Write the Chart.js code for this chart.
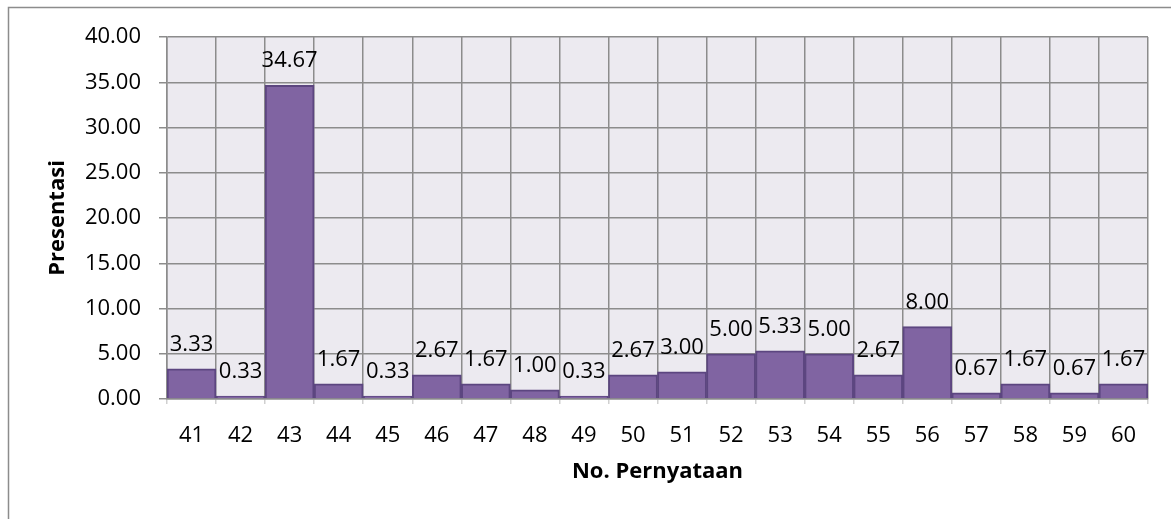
<!DOCTYPE html>
<html lang="id">
<head>
    <meta charset="UTF-8">
    <title>Presentasi per No. Pernyataan</title>
    <script src="https://cdn.jsdelivr.net/npm/chart.js"></script>
    <style>
        body { margin: 0; background: #fff; }
    </style>
</head>
<body>
    <canvas id="grafico" width="1171" height="519"></canvas>

    <script>
        const kategori = ['41', '42', '43', '44', '45', '46', '47', '48', '49', '50',
            '51', '52', '53', '54', '55', '56', '57', '58', '59', '60'];
        const presentasi = [3.33, 0.33, 34.67, 1.67, 0.33, 2.67, 1.67, 1.00, 0.33, 2.67,
            3.00, 5.00, 5.33, 5.00, 2.67, 8.00, 0.67, 1.67, 0.67, 1.67];

        const fuente = "'Open Sans', 'DejaVu Sans', sans-serif";

        // fondo del área de trazado + marco exterior
        const fondo = {
            id: 'fondo',
            beforeDraw(chart) {
                const { ctx, chartArea: a } = chart;
                ctx.save();
                ctx.fillStyle = '#ECEAF0';
                ctx.fillRect(a.left, a.top, a.right - a.left, a.bottom - a.top);
                ctx.strokeStyle = '#8C8C8C';
                ctx.lineWidth = 1.5;
                ctx.beginPath();
                ctx.moveTo(8.5, 519);
                ctx.lineTo(8.5, 7.5);
                ctx.lineTo(1171, 7.5);
                ctx.stroke();
                ctx.restore();
            }
        };

        // etiquetas de valor encima de cada barra
        const etiquetas = {
            id: 'etiquetas',
            afterDatasetsDraw(chart) {
                const { ctx } = chart;
                const meta = chart.getDatasetMeta(0);
                ctx.save();
                ctx.font = '22px ' + fuente;
                ctx.fillStyle = '#000';
                ctx.textAlign = 'center';
                ctx.textBaseline = 'alphabetic';
                meta.data.forEach((bar, i) => {
                    ctx.fillText(presentasi[i].toFixed(2), bar.x, bar.y - 18);
                });
                ctx.restore();
            }
        };

        new Chart(document.getElementById('grafico'), {
            type: 'bar',
            data: {
                labels: kategori,
                datasets: [{
                    data: presentasi,
                    backgroundColor: '#8064A2',
                    borderColor: '#5C4680',
                    borderWidth: 2,
                    categoryPercentage: 1,
                    barPercentage: 1
                }]
            },
            options: {
                responsive: false,
                animation: false,
                layout: { padding: { top: 37, right: 23, left: 0, bottom: 0 } },
                plugins: {
                    legend: { display: false },
                    tooltip: { enabled: false }
                },
                scales: {
                    x: {
                        afterFit(s) { s.height = 120; },
                        grid: { color: '#8C8C8C', lineWidth: 1.5, tickColor: '#D0D0D0', tickLength: 5, offset: true },
                        border: { color: '#8C8C8C', width: 1.5 },
                        ticks: { color: '#000', padding: 19, font: { family: fuente, size: 22 } },
                        title: {
                            display: true, text: 'No. Pernyataan', color: '#000',
                            font: { family: fuente, size: 22, weight: 'bold' },
                            padding: { top: 34, bottom: 34 }
                        }
                    },
                    y: {
                        min: 0, max: 40,
                        afterFit(s) { s.width = 167; },
                        grid: { color: '#8C8C8C', lineWidth: 1.5, tickLength: 8 },
                        border: { color: '#8C8C8C', width: 1.5 },
                        ticks: {
                            stepSize: 5, color: '#000', padding: 18,
                            font: { family: fuente, size: 22 },
                            callback: v => v.toFixed(2)
                        },
                        title: {
                            display: true, text: 'Presentasi', color: '#000',
                            font: { family: fuente, size: 22, weight: 'bold' },
                            padding: { top: 45, bottom: 45 }
                        }
                    }
                }
            },
            plugins: [fondo, etiquetas]
        });
    </script>
</body>
</html>
